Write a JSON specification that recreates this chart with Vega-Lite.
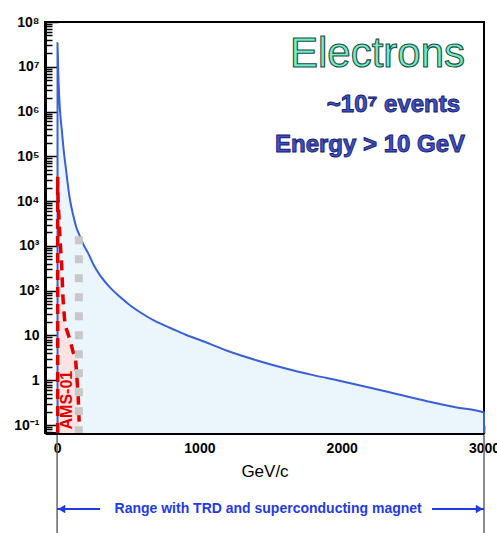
{
  "$schema": "https://vega.github.io/schema/vega-lite/v6.json",
  "width": 439,
  "height": 411,
  "autosize": {"type": "none"},
  "padding": {"left": 45, "top": 22, "right": 13, "bottom": 100},
  "background": "white",
  "config": {
    "font": "Liberation Sans",
    "view": {"stroke": "black", "strokeWidth": 2},
    "axis": {"grid": false, "labelOverlap": false, "labelFlush": false, "domainColor": "black", "tickColor": "black", "labelColor": "black", "titleColor": "black", "labelFont": "Liberation Sans", "titleFont": "Liberation Sans"}
  },
  "datasets": {
    "electrons": [
      {"i": 0, "E": 3, "F": 0.0663, "edge": true},
      {"i": 1, "E": 3, "F": 34000000, "edge": false},
      {"i": 2, "E": 8, "F": 8000000, "edge": false},
      {"i": 3, "E": 16, "F": 1800000, "edge": false},
      {"i": 4, "E": 25, "F": 700000, "edge": false},
      {"i": 5, "E": 33, "F": 390000, "edge": false},
      {"i": 6, "E": 46, "F": 140000, "edge": false},
      {"i": 7, "E": 60, "F": 60000, "edge": false},
      {"i": 8, "E": 75, "F": 24000, "edge": false},
      {"i": 9, "E": 90, "F": 11000, "edge": false},
      {"i": 10, "E": 112, "F": 5000, "edge": false},
      {"i": 11, "E": 135, "F": 2600, "edge": false},
      {"i": 12, "E": 162, "F": 1600, "edge": false},
      {"i": 13, "E": 190, "F": 1000, "edge": false},
      {"i": 14, "E": 218, "F": 690, "edge": false},
      {"i": 15, "E": 260, "F": 360, "edge": false},
      {"i": 16, "E": 302, "F": 220, "edge": false},
      {"i": 17, "E": 360, "F": 130, "edge": false},
      {"i": 18, "E": 443, "F": 72, "edge": false},
      {"i": 19, "E": 510, "F": 48, "edge": false},
      {"i": 20, "E": 583, "F": 33, "edge": false},
      {"i": 21, "E": 700, "F": 20, "edge": false},
      {"i": 22, "E": 800, "F": 14.5, "edge": false},
      {"i": 23, "E": 900, "F": 10.5, "edge": false},
      {"i": 24, "E": 1000, "F": 8, "edge": false},
      {"i": 25, "E": 1200, "F": 4.5, "edge": false},
      {"i": 26, "E": 1400, "F": 2.8, "edge": false},
      {"i": 27, "E": 1600, "F": 1.85, "edge": false},
      {"i": 28, "E": 1800, "F": 1.3, "edge": false},
      {"i": 29, "E": 2000, "F": 0.95, "edge": false},
      {"i": 30, "E": 2200, "F": 0.68, "edge": false},
      {"i": 31, "E": 2400, "F": 0.48, "edge": false},
      {"i": 32, "E": 2600, "F": 0.34, "edge": false},
      {"i": 33, "E": 2800, "F": 0.25, "edge": false},
      {"i": 34, "E": 3000, "F": 0.19, "edge": false},
      {"i": 35, "E": 3000, "F": 0.0663, "edge": true}
    ],
    "ams01": [
      {"i": 0, "E": 4, "F": 0.0663, "edge": true},
      {"i": 1, "E": 4, "F": 35000, "edge": false},
      {"i": 2, "E": 7, "F": 10700, "edge": false},
      {"i": 3, "E": 21, "F": 1350, "edge": false},
      {"i": 4, "E": 32, "F": 380, "edge": false},
      {"i": 5, "E": 42, "F": 62, "edge": false},
      {"i": 6, "E": 56, "F": 17, "edge": false},
      {"i": 7, "E": 91, "F": 8, "edge": false},
      {"i": 8, "E": 112, "F": 4.3, "edge": false},
      {"i": 9, "E": 130, "F": 2.9, "edge": false},
      {"i": 10, "E": 148, "F": 0.47, "edge": false},
      {"i": 11, "E": 158, "F": 0.0663, "edge": false}
    ],
    "cutoff": [
      {"E": 153, "F": 1650, "F0": 0.0663}
    ],
    "title": [{"label": "Electrons", "E": 2867, "F": 10000000}],
    "subtitle": [
      {"label": "~10⁷ events", "E": 2832, "F": 1000000},
      {"label": "Energy > 10 GeV", "E": 2867, "F": 126000}
    ],
    "amslabel": [{"label": "AMS-01", "E": 70, "F": 0.36}],
    "bounds": [
      {"E": 0, "a": -0.005, "a2": -0.26},
      {"E": 3000, "a": -0.005, "a2": -0.26}
    ],
    "arrowline": [
      {"E": 0, "E2": 302, "a": -0.185},
      {"E": 2635, "E2": 3000, "a": -0.185}
    ],
    "arrowheads": [
      {"E": 32, "a": -0.185, "dir": "left"},
      {"E": 2968, "a": -0.185, "dir": "right"}
    ],
    "rangetext": [{"label": "Range with TRD and superconducting magnet", "E": 1483, "a": -0.185}]
  },
  "encoding": {
    "x": {
      "field": "E", "type": "quantitative",
      "scale": {"domain": [-85, 3000], "nice": false, "zero": false},
      "axis": {
        "values": [0, 200, 400, 600, 800, 1000, 1200, 1400, 1600, 1800, 2000, 2200, 2400, 2600, 2800, 3000],
        "labelExpr": "datum.value % 1000 == 0 ? '' + datum.value : ''",
        "tickSize": {"condition": {"test": "datum.value % 1000 == 0", "value": -8}, "value": -4},
        "tickWidth": 1.5,
        "domainWidth": 3,
        "labelFontSize": 14,
        "labelFontWeight": "bold",
        "labelPadding": 16,
        "labelOverlap": false,
        "labelFlush": false,
        "title": "GeV/c",
        "titleFontSize": 17,
        "titleFontWeight": "normal",
        "titlePadding": 4
      }
    }
  },
  "layer": [
    {
      "encoding": {
        "y": {
          "field": "F", "type": "quantitative", "stack": null,
          "scale": {"type": "log", "domain": [0.0663, 100000000], "nice": false},
          "axis": {
            "values": [0.07, 0.08, 0.09, 0.1, 0.2, 0.3, 0.4, 0.5, 0.6, 0.7, 0.8, 0.9, 1, 2, 3, 4, 5, 6, 7, 8, 9, 10, 20, 30, 40, 50, 60, 70, 80, 90, 100, 200, 300, 400, 500, 600, 700, 800, 900, 1000, 2000, 3000, 4000, 5000, 6000, 7000, 8000, 9000, 10000, 20000, 30000, 40000, 50000, 60000, 70000, 80000, 90000, 100000, 200000, 300000, 400000, 500000, 600000, 700000, 800000, 900000, 1000000, 2000000, 3000000, 4000000, 5000000, 6000000, 7000000, 8000000, 9000000, 10000000, 20000000, 30000000, 40000000, 50000000, 60000000, 70000000, 80000000, 90000000, 100000000],
            "labelExpr": "abs(log(datum.value)/LN10 - round(log(datum.value)/LN10)) < 0.001 ? ['10⁻¹','1','10','10²','10³','10⁴','10⁵','10⁶','10⁷','10⁸'][round(log(datum.value)/LN10)+1] : ''",
            "tickSize": {"condition": {"test": "abs(log(datum.value)/LN10 - round(log(datum.value)/LN10)) < 0.001", "value": -13}, "value": -7},
            "tickWidth": 1.5,
            "domainWidth": 3,
            "labelFontSize": 14,
            "labelFontWeight": "bold",
            "labelPadding": 19,
            "labelOverlap": false,
            "labelFlush": false,
            "title": null
          }
        }
      },
      "layer": [
        {
          "data": {"name": "electrons"},
          "transform": [{"filter": "!datum.edge"}],
          "mark": {"type": "area", "fill": "#eaf6fc", "fillOpacity": 1, "interpolate": "monotone", "orient": "vertical"}
        },
        {
          "data": {"name": "ams01"},
          "transform": [{"filter": "!datum.edge"}],
          "mark": {"type": "area", "fill": "#ffe2e2", "fillOpacity": 1, "orient": "vertical"}
        },
        {
          "data": {"name": "electrons"},
          "mark": {"type": "line", "color": "#3b60d6", "strokeWidth": 2, "interpolate": "monotone"},
          "encoding": {"order": {"field": "i", "type": "quantitative"}}
        },
        {
          "data": {"name": "ams01"},
          "mark": {"type": "line", "color": "#e00000", "strokeWidth": 3.5, "strokeDash": [10, 7]},
          "encoding": {"order": {"field": "i", "type": "quantitative"}}
        },
        {
          "data": {"name": "cutoff"},
          "mark": {"type": "rule", "color": "#c8c8c8", "strokeWidth": 8, "strokeDash": [8, 11]},
          "encoding": {"y2": {"field": "F0"}}
        },
        {
          "data": {"name": "amslabel"},
          "mark": {"type": "text", "angle": 270, "align": "center", "baseline": "middle", "fontSize": 16, "fontWeight": "bold", "color": "#dd0000"},
          "encoding": {"text": {"field": "label"}}
        },
        {
          "data": {"name": "title"},
          "mark": {"type": "text", "align": "right", "baseline": "alphabetic", "fontSize": 42, "fill": "#6ff0c8", "stroke": "#1f4a42", "strokeWidth": 1.1},
          "encoding": {"text": {"field": "label"}}
        },
        {
          "data": {"name": "subtitle"},
          "mark": {"type": "text", "align": "right", "baseline": "alphabetic", "fontSize": 24, "fontWeight": "bold", "fill": "#3f51c6", "stroke": "#15206b", "strokeWidth": 0.9},
          "encoding": {"text": {"field": "label"}}
        }
      ]
    },
    {
      "encoding": {
        "y": {"field": "a", "type": "quantitative", "stack": null, "scale": {"domain": [0, 1], "nice": false, "zero": false}, "axis": null}
      },
      "layer": [
        {
          "data": {"name": "bounds"},
          "mark": {"type": "rule", "color": "#666666", "strokeWidth": 1.5, "clip": false},
          "encoding": {"y2": {"field": "a2"}}
        },
        {
          "data": {"name": "arrowline"},
          "mark": {"type": "rule", "color": "#1f3ae6", "strokeWidth": 2, "clip": false},
          "encoding": {"x2": {"field": "E2"}}
        },
        {
          "data": {"name": "arrowheads"},
          "mark": {"type": "point", "filled": true, "size": 70, "color": "#1f3ae6", "opacity": 1, "clip": false},
          "encoding": {
            "shape": {"field": "dir", "type": "nominal", "scale": {"domain": ["left", "right"], "range": ["triangle-left", "triangle-right"]}, "legend": null}
          }
        },
        {
          "data": {"name": "rangetext"},
          "mark": {"type": "text", "align": "center", "baseline": "middle", "fontSize": 14, "fontWeight": "bold", "color": "#1f3ae6", "clip": false},
          "encoding": {"text": {"field": "label"}}
        }
      ]
    }
  ],
  "resolve": {"scale": {"y": "independent"}, "axis": {"y": "independent"}}
}
